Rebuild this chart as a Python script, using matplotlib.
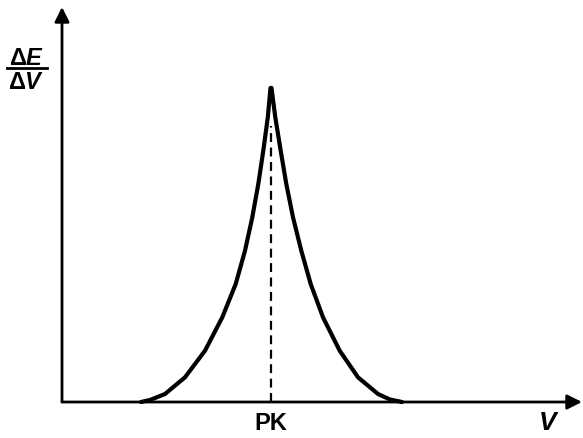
import matplotlib.pyplot as plt

plt.rcParams['mathtext.fontset'] = 'custom'
plt.rcParams['mathtext.rm'] = 'Liberation Sans:bold'
plt.rcParams['mathtext.it'] = 'Liberation Sans:italic:bold'

# curve (V, dE/dV), arbitrary units
v_rise = [79, 88, 103, 123, 143, 160.3, 173.7, 183, 190.3, 196.3, 201.3, 205.8, 208.5]
d_rise = [0, 2, 8, 24.7, 51.3, 84.7, 118, 151.3, 184.7, 218, 251.3, 284.7, 314]
v_fall = [209.5, 213.3, 218.7, 224.3, 231, 239.3, 248.7, 261, 277.7, 296, 316, 328, 340]
d_fall = [314, 284.7, 251.3, 218, 184.7, 151.3, 118, 84.7, 51.3, 24.7, 8, 2.5, 0]
pk = 209
pk_top = 276

fig = plt.figure(figsize=(5.83, 4.39), dpi=100)
ax = fig.add_axes([0, 0, 1, 1])
ax.set_xlim(-62, 521)
ax.set_ylim(-36, 403)
ax.axis('off')

# axes with arrow heads
arrow = dict(arrowstyle='-|>', lw=2, color='black', mutation_scale=22,
             shrinkA=0, shrinkB=0)
ax.annotate('', xy=(520, 0), xytext=(0, 0), arrowprops=arrow)
ax.annotate('', xy=(0, 395), xytext=(0, 0), arrowprops=arrow)

ax.plot(v_rise + v_fall, d_rise + d_fall, color='black', lw=3,
        solid_joinstyle='round', solid_capstyle='round')
ax.plot([pk, pk], [0, pk_top], color='black', lw=1.6, linestyle=(0, (4, 2.5)))

ax.text(pk, -21, 'PK', ha='center', va='center', fontsize=17,
        fontweight='bold', family='Liberation Sans')
ax.text(487, -20, r'$V$', ha='center', va='center', fontsize=19)

ax.text(-35.5, 345, r'$\Delta E$', ha='center', va='center', fontsize=17)
ax.plot([-55, -15], [334, 334], color='black', lw=2)
ax.text(-35.5, 321, r'$\Delta V$', ha='center', va='center', fontsize=17)

fig.savefig('out.png', dpi=100)
